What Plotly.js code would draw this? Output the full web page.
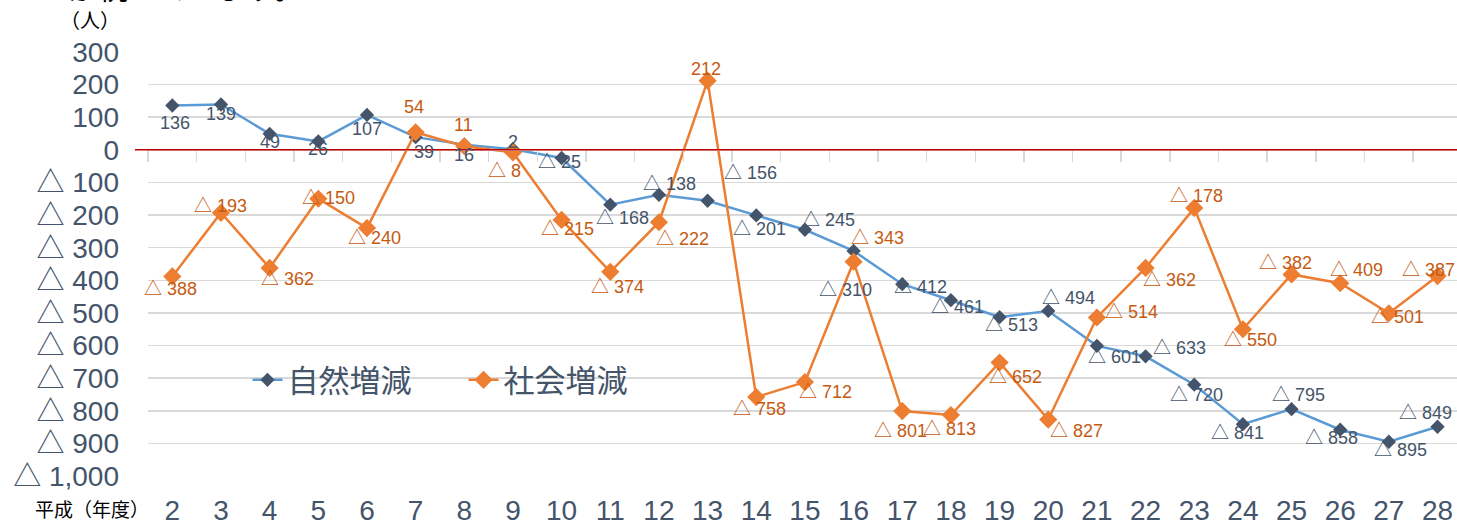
<!DOCTYPE html>
<html>
<head>
<meta charset="utf-8">
<script src="https://cdn.plot.ly/plotly-3.0.1.min.js"></script>
<style>
html,body{margin:0;padding:0;background:#fff;overflow:hidden;}
#chart{width:1457px;height:526px;}
</style>
</head>
<body>
<div id="chart"></div>
<script>
// ---- data ----
const years = ["2","3","4","5","6","7","8","9","10","11","12","13","14","15","16","17","18","19","20","21","22","23","24","25","26","27","28"];
const naturalChange = [136,139,49,26,107,39,16,2,-25,-168,-138,-156,-201,-245,-310,-412,-461,-513,-494,-601,-633,-720,-841,-795,-858,-895,-849];
const socialChange = [-388,-193,-362,-150,-240,54,11,-8,-215,-374,-222,212,-758,-712,-343,-801,-813,-652,-827,-514,-362,-178,-550,-382,-409,-501,-387];
const yTickVals = [300,200,100,0,-100,-200,-300,-400,-500,-600,-700,-800,-900,-1000];
const yTickText = ["300","200","100","0","△ 100","△ 200","△ 300","△ 400","△ 500","△ 600","△ 700","△ 800","△ 900","△ 1,000"];
const seriesNames = ["自然増減","社会増減"];

// ---- label placement (pixel offsets from each point: [dx, dy-down]) ----
const naturalLabelOffsets = [[3,18],[0,9],[0,8],[0,8],[0,14],[8,15],[0,10],[0,-7],[-2,4],[12,13],[11,-11],[43,-28],[3,14],[24,-10],[-8,39],[18,3],[7,7],[12,8],[20,-13],[18,11],[34,-8],[2,10],[-5,9],[7,-14],[-9,8],[12,8],[-12,-14]];
const socialLabelOffsets = [[-2,13],[0,-7],[18,11],[10,-1],[8,10],[-2,-25],[-1,-21],[-8,19],[6,9],[7,15],[24,17],[-2,-12],[3,12],[21,10],[24,-24],[-2,20],[-1,14],[16,14],[28,11],[35,-5],[24,12],[2,-12],[8,11],[-6,-11],[16,-13],[9,4],[-9,-6]];

const fmt = v => v < 0 ? "△ " + Math.abs(v) : String(v);
const FONT = "Liberation Sans, Noto Sans CJK JP, sans-serif";
const JFONT = "Noto Sans CJK JP, sans-serif";
const slate = "#44546A";

const traces = [
  {x: years, y: naturalChange, name: seriesNames[0], type: "scatter", mode: "lines+markers",
   line: {color: "#5B9BD5", width: 2.5}, marker: {symbol: "diamond", size: 11, color: slate}, hoverinfo: "skip"},
  {x: years, y: socialChange, name: seriesNames[1], type: "scatter", mode: "lines+markers",
   line: {color: "#ED7D31", width: 2.5}, marker: {symbol: "diamond", size: 14, color: "#ED7D31"}, hoverinfo: "skip"},
  {x: years, y: years.map(() => 0), xaxis: "x2", type: "scatter", mode: "lines",
   line: {width: 0}, opacity: 0, showlegend: false, hoverinfo: "skip"}
];

const annotations = [];
years.forEach((yr, i) => {
  // category axis: annotation x given as category index
  annotations.push({x: i, y: naturalChange[i], xref: "x", yref: "y", text: fmt(naturalChange[i]), showarrow: false,
    xanchor: "center", yanchor: "middle",
    xshift: naturalLabelOffsets[i][0], yshift: -naturalLabelOffsets[i][1], font: {family: FONT, size: 18, color: slate}});
  annotations.push({x: i, y: socialChange[i], xref: "x", yref: "y", text: fmt(socialChange[i]), showarrow: false,
    xanchor: "center", yanchor: "middle",
    xshift: socialLabelOffsets[i][0], yshift: -socialLabelOffsets[i][1], font: {family: FONT, size: 18, color: "#C55A11"}});
});
annotations.push({xref: "paper", yref: "paper", x: -0.0443, y: 1.0755, xanchor: "center", yanchor: "middle",
  text: "（人）", showarrow: false, font: {family: JFONT, size: 20, color: "#000"}});
annotations.push({xref: "paper", yref: "paper", x: -0.0428, y: -0.0755, xanchor: "center", yanchor: "middle",
  text: "平成（年度）", showarrow: false, font: {family: JFONT, size: 19, color: "#000"}});
annotations.push({xref: "paper", yref: "paper", x: -0.063, y: 1.099, xanchor: "left", yanchor: "bottom",
  text: "が続いています。", showarrow: false, font: {family: JFONT, size: 30, color: "#000"}});

const layout = {
  width: 1457, height: 526,
  margin: {l: 148, r: 0, t: 52, b: 50},
  paper_bgcolor: "#fff", plot_bgcolor: "#fff",
  showlegend: true,
  legend: {orientation: "h", x: 0.076, y: 0.226, xanchor: "left", yanchor: "middle",
    bgcolor: "rgba(0,0,0,0)", font: {family: JFONT, size: 31, color: slate},
    entrywidth: 171, entrywidthmode: "pixels"},
  xaxis: {type: "category", categoryarray: years, range: [-0.5, 26.4], showgrid: false, zeroline: false,
    showline: false, ticks: "", tickfont: {family: FONT, size: 28, color: slate}, ticklabelstandoff: 15, fixedrange: true},
  xaxis2: {type: "category", categoryarray: years, range: [-0.5, 26.4], overlaying: "x", anchor: "free",
    position: 1000 / 1300, side: "bottom", showgrid: false, zeroline: false, showline: true, linecolor: "#D9D9D9",
    linewidth: 1.5, ticks: "outside", tickson: "boundaries", ticklen: 11, tickcolor: "#D9D9D9", tickwidth: 1.5,
    showticklabels: false},
  yaxis: {range: [-1000, 300], tickvals: yTickVals, ticktext: yTickText, showgrid: true, gridcolor: "#D9D9D9",
    gridwidth: 1.5, zeroline: false, showline: false, ticks: "", ticklabelstandoff: 28,
    tickfont: {family: FONT, size: 28, color: slate}, fixedrange: true},
  shapes: [{type: "line", xref: "paper", yref: "y", x0: -0.01, x1: 1, y0: 0, y1: 0,
    line: {color: "#C00000", width: 1.5}, layer: "above"}],
  annotations: annotations
};

Plotly.newPlot("chart", traces, layout, {displayModeBar: false, staticPlot: true});
</script>
</body>
</html>
